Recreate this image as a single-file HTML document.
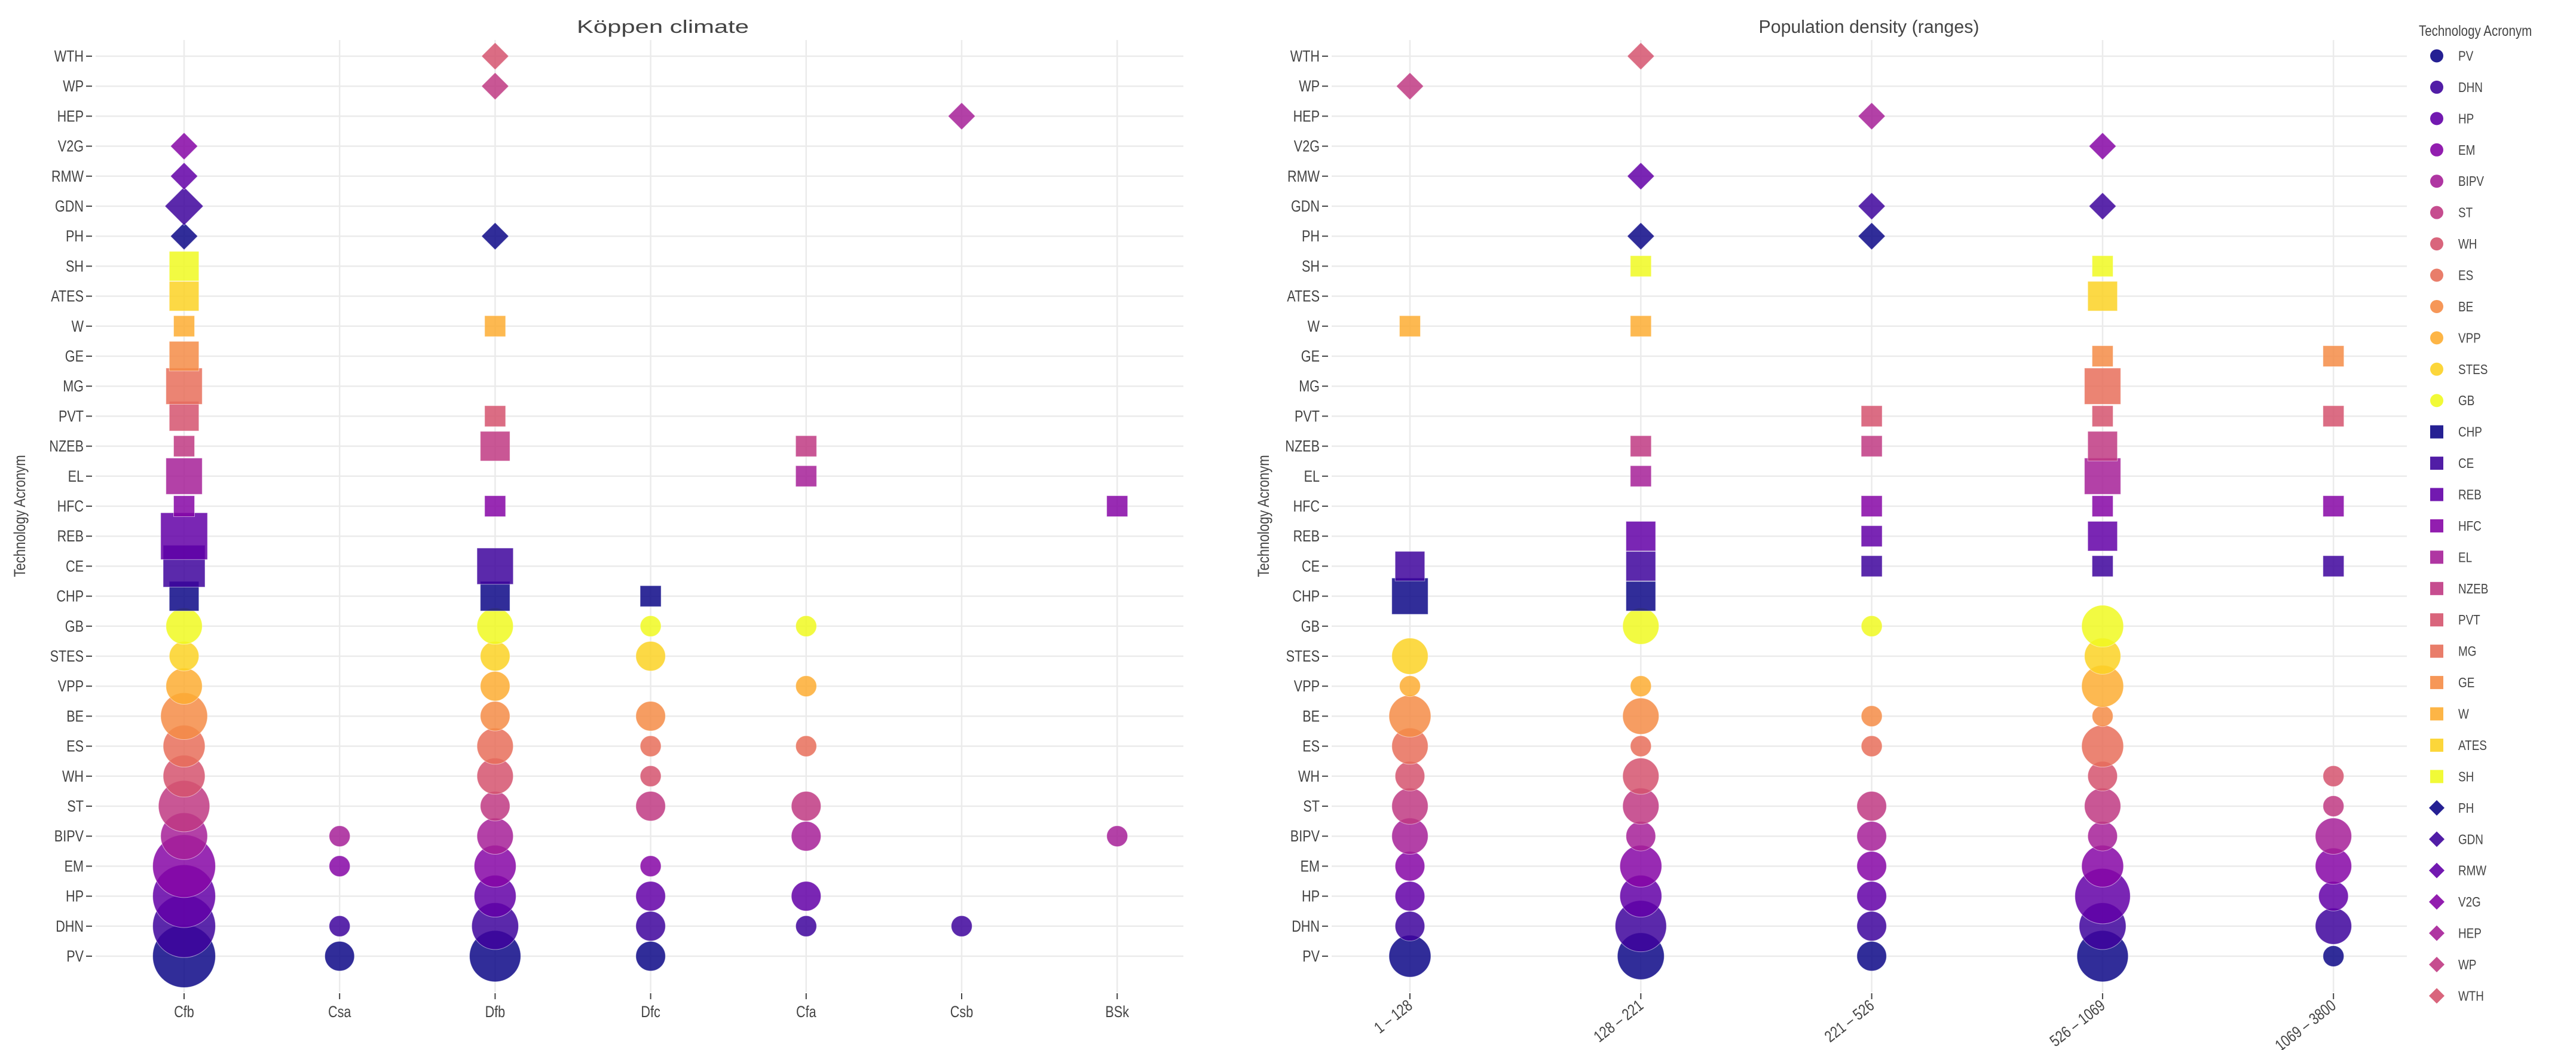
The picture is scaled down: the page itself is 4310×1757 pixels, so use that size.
<!DOCTYPE html>
<html><head><meta charset="utf-8"><style>
html,body{margin:0;padding:0;background:#fff;}
svg{display:block;font-family:"Liberation Sans",Arial,sans-serif;}
</style></head><body>
<svg id="chart" width="4310" height="1757" viewBox="0 0 4310 1757" xmlns="http://www.w3.org/2000/svg">
<rect width="4310" height="1757" fill="#fff"/>
<g id="grid"></g><g id="marks"></g><g id="axes"></g><g id="legend"></g>
</svg>
<script>
// Categories (bottom to top)
const techs = ["PV","DHN","HP","EM","BIPV","ST","WH","ES","BE","VPP","STES","GB","CHP","CE","REB","HFC","EL","NZEB","PVT","MG","GE","W","ATES","SH","PH","GDN","RMW","V2G","HEP","WP","WTH"];
const koppenCats = ["Cfb","Csa","Dfb","Dfc","Cfa","Csb","BSk"];
const densityCats = ["1 – 128","128 – 221","221 – 526","526 – 1069","1069 – 3800"];
// counts per tech (order as techs) per climate column
const koppenCfb = [9,9,9,9,5,6,4,4,5,3,2,3, 2,4,5,1,3,1,2,3,2,1,2,2, 1,2,1,1,0,0,0];
const koppenCsa = [2,1,0,1,1,0,0,0,0,0,0,0, 0,0,0,0,0,0,0,0,0,0,0,0, 0,0,0,0,0,0,0];
const koppenDfb = [6,5,4,4,3,2,3,3,2,2,2,3, 2,3,0,1,0,2,1,0,0,1,0,0, 1,0,0,0,0,1,1];
const koppenDfc = [2,2,2,1,0,2,1,1,2,0,2,1, 1,0,0,0,0,0,0,0,0,0,0,0, 0,0,0,0,0,0,0];
const koppenCfa = [0,1,2,0,2,2,0,1,0,1,0,1, 0,0,0,0,1,1,0,0,0,0,0,0, 0,0,0,0,0,0,0];
const koppenCsb = [0,1,0,0,0,0,0,0,0,0,0,0, 0,0,0,0,0,0,0,0,0,0,0,0, 0,0,0,0,1,0,0];
const koppenBSk = [0,0,0,0,1,0,0,0,0,0,0,0, 0,0,0,1,0,0,0,0,0,0,0,0, 0,0,0,0,0,0,0];
// counts per tech per density range
const dens1 = [4,2,2,2,3,3,2,3,4,1,3,0, 3,2,0,0,0,0,0,0,0,1,0,0, 0,0,0,0,0,1,0];
const dens2 = [5,6,4,4,2,3,3,1,3,1,0,3, 2,2,2,0,1,1,0,0,0,1,0,1, 1,0,1,0,0,0,1];
const dens3 = [2,2,2,2,2,2,0,1,1,0,0,1, 0,1,1,1,0,1,1,0,0,0,0,0, 1,1,0,0,1,0,0];
const dens4 = [6,5,7,4,2,3,2,4,1,4,3,4, 0,1,2,1,3,2,1,3,1,0,2,1, 0,1,0,1,0,0,0];
const dens5 = [1,3,2,3,3,1,1,0,0,0,0,0, 0,1,0,1,0,0,1,0,1,0,0,0, 0,0,0,0,0,0,0];
const koppenCols = [koppenCfb,koppenCsa,koppenDfb,koppenDfc,koppenCfa,koppenCsb,koppenBSk];
const densCols = [dens1,dens2,dens3,dens4,dens5];

const palette = ["#0d0887","#3e049c","#6300a7","#8606a6","#a62098","#c03a83","#d5546e","#e76f5a","#f58c46","#fdad32","#fcd225","#f0f921"];
const NS="http://www.w3.org/2000/svg";
const G=document.getElementById('grid'),M=document.getElementById('marks'),A=document.getElementById('axes'),L=document.getElementById('legend');
function mk(tag,attrs,parent){const e=document.createElementNS(NS,tag);for(const k in attrs)e.setAttribute(k,attrs[k]);parent.appendChild(e);return e;}
function squeeze(t,f){try{const w=t.getComputedTextLength();if(w>0){t.setAttribute('textLength',(w*f).toFixed(1));t.setAttribute('lengthAdjust','spacingAndGlyphs');}}catch(e){}}
function yPos(i){return 1600-i*50.2;}
function colorOf(i){if(i<12)return palette[i];if(i<24)return palette[i-12];return palette[i-24];}
function shapeOf(i){return i<12?'circle':(i<24?'square':'diamond');}
function sizeOf(n){return 35*Math.sqrt(n);}

const panels=[
 {name:'koppen',x0:160,x1:1980,xc:i=>308+i*260.2,cats:koppenCats,cols:koppenCols,title:'Köppen climate',tx:1109,tw:288,ytx:33,rot:false},
 {name:'density',x0:2228,x1:4027,xc:i=>2359+i*386.3,cats:densityCats,cols:densCols,title:'Population density (ranges)',tx:3127,tw:369,ytx:2114,rot:true}
];
const plotTop=67,plotBottom=1660;

panels.forEach(p=>{
  techs.forEach((t,i)=>{
    const y=yPos(i);
    const gl=mk('line',{x1:p.x0,x2:p.x1,y1:y,y2:y,stroke:'#ebebeb','stroke-width':2.5},G);
    
    
    const tk=mk('line',{x1:p.x0-16,x2:p.x0-6,y1:y,y2:y,stroke:'#444','stroke-width':2},A);
    
    
    const lb=mk('text',{x:p.x0-20,y:y+9,'text-anchor':'end','font-size':27,fill:'#444'},A);
    lb.textContent=t;
    
    
    squeeze(lb,0.8);
  });
  p.cats.forEach((c,j)=>{
    const x=p.xc(j);
    const vl=mk('line',{x1:x,x2:x,y1:plotTop,y2:plotBottom,stroke:'#ebebeb','stroke-width':2.5},G);
    
    
    const tk=mk('line',{x1:x,x2:x,y1:plotBottom+2,y2:plotBottom+12,stroke:'#444','stroke-width':2},A);
    
    
    let lb;
    if(p.rot){
      lb=mk('text',{x:0,y:0,'text-anchor':'end','font-size':27,fill:'#444',transform:`translate(${x+6},${plotBottom+26}) rotate(-38)`},A);
    }else{
      lb=mk('text',{x:x,y:plotBottom+42,'text-anchor':'middle','font-size':27,fill:'#444'},A);
    }
    lb.textContent=c;
    
    
    squeeze(lb,0.8);
  });
  const tt=mk('text',{x:p.tx,y:55,'text-anchor':'middle','font-size':31,fill:'#444'},A);
  tt.textContent=p.title;
  
  
  tt.setAttribute('textLength',p.tw);tt.setAttribute('lengthAdjust','spacingAndGlyphs');
  const yt=mk('text',{x:0,y:0,'text-anchor':'middle','font-size':27,fill:'#444',transform:`translate(${p.ytx+9},${(plotTop+plotBottom)/2}) rotate(-90)`},A);
  yt.textContent='Technology Acronym';
  
  
  squeeze(yt,0.82);
  techs.forEach((t,i)=>{
    p.cols.forEach((col,j)=>{
      const n=col[i]; if(!n) return;
      const x=p.xc(j),y=yPos(i),s=sizeOf(n),c=colorOf(i),sh=shapeOf(i);
      let el;
      if(sh==='circle') el=mk('circle',{cx:x,cy:y,r:s/2},M);
      else if(sh==='square') el=mk('rect',{x:x-s/2,y:y-s/2,width:s,height:s},M);
      else {const h=s*0.65;el=mk('polygon',{points:`${x},${y-h} ${x+h},${y} ${x},${y+h} ${x-h},${y}`},M);}
      el.setAttribute('fill',c);el.setAttribute('fill-opacity','0.85');
      el.setAttribute('stroke','#fff');el.setAttribute('stroke-opacity','0.5');el.setAttribute('stroke-width','1');
      
      
    });
  });
});

const lt=mk('text',{x:4047,y:60,'font-size':25,fill:'#444'},L);
lt.textContent='Technology Acronym';


squeeze(lt,0.82);
techs.forEach((t,i)=>{
  const y=93.5+i*52.43, x=4077, c=colorOf(i), sh=shapeOf(i);
  const g=mk('g',{},L);
  
  
  let el;
  if(sh==='circle') el=mk('circle',{cx:x,cy:y,r:11},g);
  else if(sh==='square') el=mk('rect',{x:x-11,y:y-11,width:22,height:22},g);
  else el=mk('polygon',{points:`${x},${y-13} ${x+13},${y} ${x},${y+13} ${x-13},${y}`},g);
  el.setAttribute('fill',c);el.setAttribute('fill-opacity','0.9');
  const tx=mk('text',{x:4113,y:y+8,'font-size':23,fill:'#444'},g);
  tx.textContent=t;
  squeeze(tx,0.82);
});
</script>
</body></html>
